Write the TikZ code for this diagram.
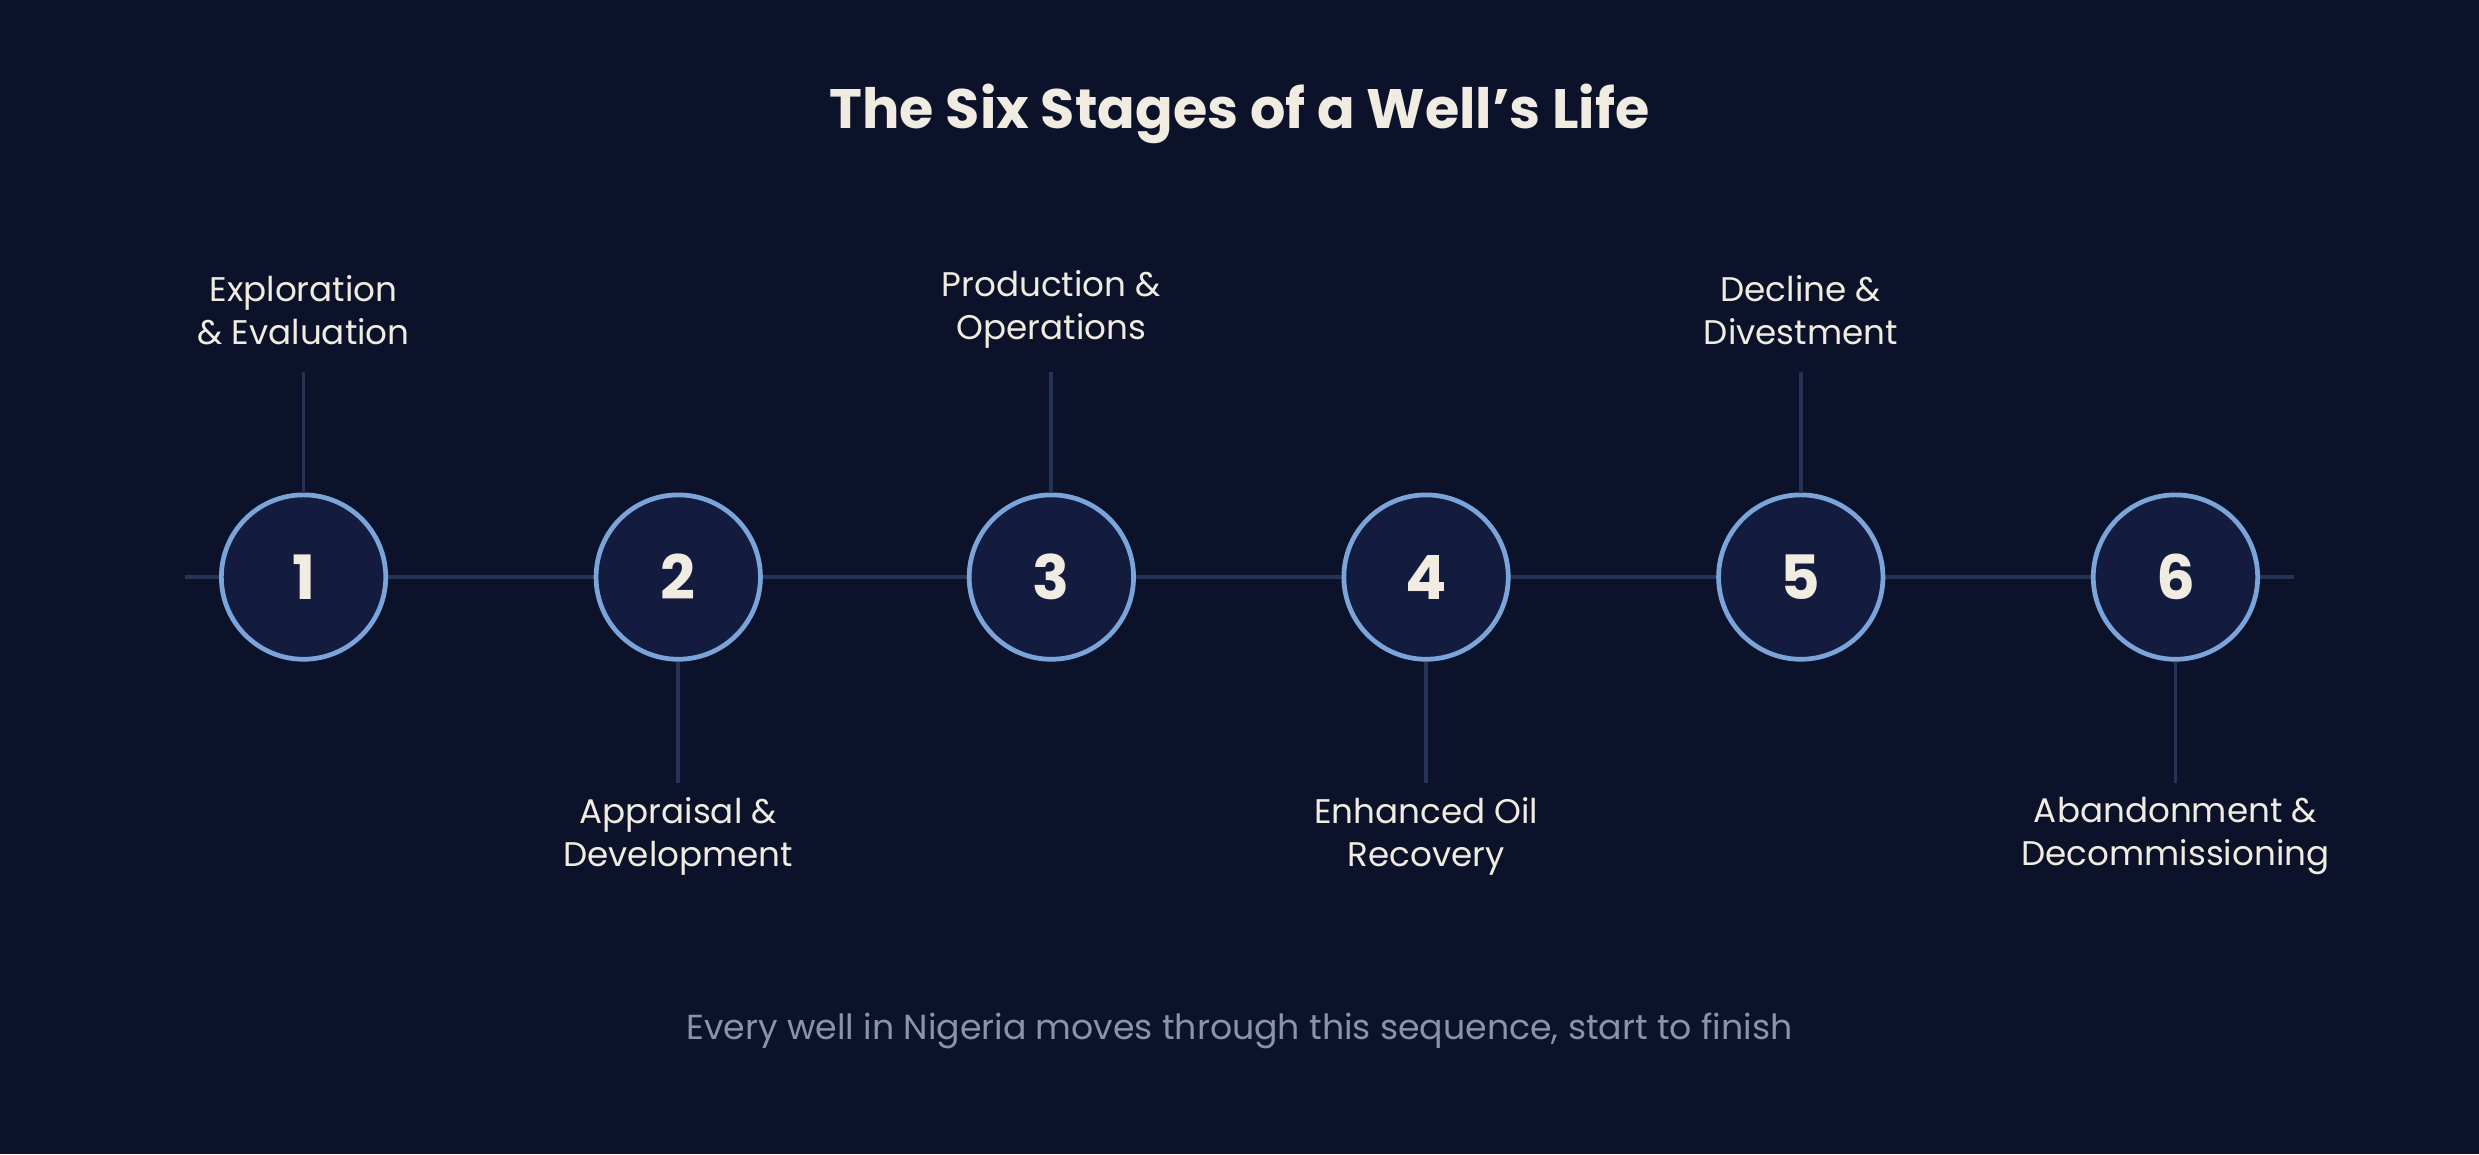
\documentclass[tikz,border=0pt]{standalone}
\usepackage{fontspec}
\setmainfont{Poppins}
\definecolor{bgcol}{HTML}{0B1229}
\definecolor{railcol}{HTML}{253456}
\definecolor{discfill}{HTML}{131C3E}
\definecolor{discring}{HTML}{7BA4DB}
\definecolor{inkcol}{HTML}{F1ECE1}
\definecolor{mutecol}{HTML}{8A93A8}
\tikzset{
  stage/.style={circle, draw=discring, fill=discfill, line width=1.7pt,
    minimum size=2.08cm, inner sep=0pt, text=inkcol,
    font=\fontsize{22}{26}\selectfont\bfseries},
  rail/.style={draw=railcol, line width=1.4pt},
  caption/.style={text=inkcol, align=center, font=\fontsize{12.3}{15.5}\selectfont}
}
\begin{document}
\begin{tikzpicture}[x=0.02cm,y=-0.02cm]
\fill[bgcol] (0,0) rectangle (1568,730);
\useasboundingbox (0,0) rectangle (1568,730);

% title
\node[text=inkcol, font=\fontsize{20}{24}\selectfont\bfseries] (title) at (784,72) {The Six Stages of a Well's Life};

% rail
\coordinate (railL) at (117,365);
\coordinate (railR) at (1451,365);
\draw[rail] (railL) -- (railR);

% stages
\foreach \i/\x in {1/192,2/429,3/665,4/902,5/1139,6/1376}
  \node[stage] (s\i) at (\x,365) {\i};

% labels above
\foreach \i/\x/\txt in {1/192/{Exploration\\ \& Evaluation},3/665/{Production \&\\Operations},5/1139/{Decline \&\\Divestment}}{
  \node[caption] (l\i) at (\x,196) {\txt};
  \coordinate (t\i) at (\x,235);
  \draw[rail] (t\i) -- (s\i.north);
}

% labels below
\foreach \i/\x/\txt in {2/429/{Appraisal \&\\Development},4/902/{Enhanced Oil\\Recovery},6/1376/{Abandonment \&\\Decommissioning}}{
  \node[caption] (l\i) at (\x,529) {\txt};
  \coordinate (t\i) at (\x,495);
  \draw[rail] (s\i.south) -- (t\i);
}

% footer
\node[text=mutecol, font=\fontsize{12.5}{15}\selectfont] (foot) at (784,652) {Every well in Nigeria moves through this sequence, start to finish};
\end{tikzpicture}
\end{document}
